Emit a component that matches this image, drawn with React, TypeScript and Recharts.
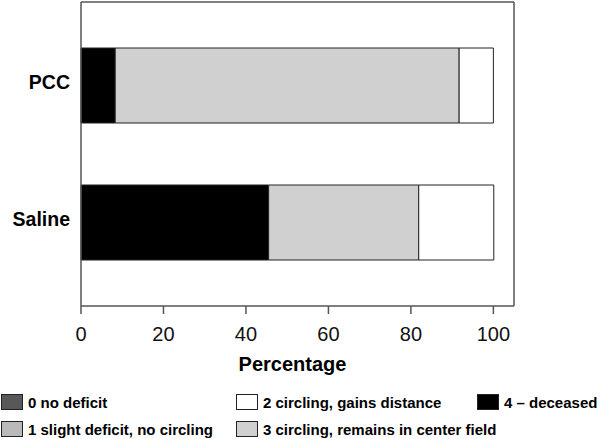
import { Bar, BarChart, XAxis, YAxis } from 'recharts'

const groups = ['PCC', 'Saline']
const noDeficit = [0, 0]
const slightDeficit = [0, 0]
const gainsDistance = [8.3, 18.2]
const centerField = [83.4, 36.4]
const deceased = [8.3, 45.5]
const xTicks = [0, 20, 40, 60, 80, 100]

const series = [
  { key: 'noDeficit', name: '0 no deficit', fill: '#585858', values: noDeficit },
  { key: 'slightDeficit', name: '1 slight deficit, no circling', fill: '#bababa', values: slightDeficit },
  { key: 'gainsDistance', name: '2 circling, gains distance', fill: '#ffffff', values: gainsDistance },
  { key: 'centerField', name: '3 circling, remains in center field', fill: '#d0d0d0', values: centerField },
  { key: 'deceased', name: '4 \u2013 deceased', fill: '#000000', values: deceased },
]

// stacking order left to right in the bars
const stackOrder = ['deceased', 'centerField', 'gainsDistance', 'slightDeficit', 'noDeficit']

const data = groups.map((group, i) => {
  const row: Record<string, string | number> = { group }
  series.forEach((s) => {
    row[s.key] = s.values[i]
  })
  return row
})

const font = '"Liberation Sans", Arial, sans-serif'
const axisColor = '#555'

export default function App() {
  const drawn = stackOrder
    .map((key) => series.find((s) => s.key === key)!)
    .filter((s) => s.values.some((v) => v > 0))

  return (
    <div style={{ position: 'absolute', left: 0, top: 0, width: 600, height: 439, background: '#fff', fontFamily: font }}>
      <BarChart
        width={600}
        height={380}
        data={data}
        layout="vertical"
        margin={{ top: 1, right: 85, bottom: 0, left: 0 }}
        style={{ fontFamily: font }}
      >
        <XAxis
          type="number"
          domain={[0, 105]}
          ticks={xTicks}
          height={74}
          tickSize={8}
          tickMargin={13}
          axisLine={{ stroke: axisColor, strokeWidth: 1.5 }}
          tickLine={{ stroke: axisColor, strokeWidth: 1.5 }}
          tick={{ fill: '#111', fontSize: 20 }}
          label={{
            value: 'Percentage',
            position: 'insideBottom',
            offset: 9,
            dx: -5,
            style: { fill: '#000', fontSize: 20, fontWeight: 700 },
          }}
        />
        {/* frame: top edge */}
        <XAxis
          xAxisId="top"
          orientation="top"
          type="number"
          domain={[0, 1]}
          height={1}
          tick={false}
          tickLine={false}
          axisLine={{ stroke: axisColor, strokeWidth: 1.5 }}
        />
        <YAxis
          type="category"
          dataKey="group"
          width={81}
          padding={{ top: 15, bottom: 15 }}
          tickLine={false}
          tickSize={0}
          tickMargin={11}
          axisLine={{ stroke: axisColor, strokeWidth: 1.5 }}
          tick={{ fill: '#000', fontSize: 19.5, fontWeight: 700, dy: -3 }}
        />
        {/* frame: right edge */}
        <YAxis
          yAxisId="right"
          orientation="right"
          type="number"
          domain={[0, 1]}
          width={1}
          tick={false}
          tickLine={false}
          axisLine={{ stroke: axisColor, strokeWidth: 1.5 }}
        />
        {drawn.map((s) => (
          <Bar
            key={s.key}
            dataKey={s.key}
            name={s.name}
            stackId="a"
            fill={s.fill}
            stroke="#222"
            strokeWidth={1}
            barSize={75}
            isAnimationActive={false}
          />
        ))}
      </BarChart>
      <div
        style={{
          position: 'absolute',
          left: 1,
          top: 394,
          display: 'grid',
          gridTemplateColumns: '235px 241px auto',
          gridTemplateRows: '27px 27px',
          gridAutoFlow: 'column',
          fontSize: 15,
          fontWeight: 700,
          color: '#000',
        }}
      >
        {series.map((s) => (
          <div key={s.key} style={{ display: 'flex', alignItems: 'center', height: 16, whiteSpace: 'nowrap' }}>
            <span
              style={{
                display: 'inline-block',
                flexShrink: 0,
                boxSizing: 'border-box',
                width: 22,
                height: 16,
                background: s.fill,
                border: '1px solid #222',
                marginRight: 5,
              }}
            />
            <span>{s.name}</span>
          </div>
        ))}
      </div>
    </div>
  )
}
